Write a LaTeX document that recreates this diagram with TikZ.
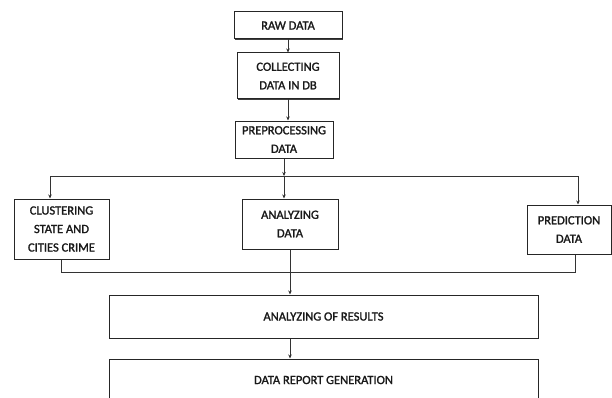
\documentclass[tikz,border=0pt]{standalone}
\usepackage{fontspec}
\setmainfont{Carlito}[FakeBold=1.5]
\usetikzlibrary{arrows.meta,shadows}
\begin{document}
\begin{tikzpicture}[x=1pt,y=1pt,
  box/.style={draw=black!85, line width=1pt, fill=white, align=center,
    inner sep=0pt, text=black!90, font=\fontsize{12.5}{18.5}\selectfont,
    drop shadow={shadow xshift=0.9pt, shadow yshift=-0.9pt, fill=black!75, opacity=1}},
  link/.style={draw=black!80, line width=0.9pt},
  arr/.style={link, -{Stealth[length=4pt,width=3.5pt]}}]
\useasboundingbox (0,0) rectangle (612,397);
\clip (0,0) rectangle (612,397);
\fill[white] (0,0) rectangle (612,397);

% processing chain
\node[box, minimum width=108, minimum height=27] (raw) at (288,371.5) {RAW DATA};
\node[box, minimum width=102, minimum height=46] (coll) at (288,321) {COLLECTING\\DATA IN DB};
\node[box, minimum width=98, minimum height=37] (pre) at (284,257.5) {PREPROCESSING\\DATA};

% three parallel branches
\node[box, minimum width=95, minimum height=60] (clu) at (61.5,168) {CLUSTERING\\STATE AND\\CITIES CRIME};
\node[box, minimum width=96, minimum height=50] (ana) at (290,173) {ANALYZING\\DATA};
\node[box, minimum width=84, minimum height=49] (pred) at (569,167.5) {PREDICTION\\DATA};

% results
\node[box, minimum width=429, minimum height=43] (res) at (323.5,80.5) {ANALYZING OF RESULTS};
\node[box, minimum width=429, minimum height=42] (rep) at (323.5,17) {DATA REPORT GENERATION};

% bus lines
\coordinate (busL) at (50,221);
\coordinate (busR) at (578,221);
\coordinate (bb) at (0,125);

\draw[arr] (raw.south) -- (coll.north);
\draw[arr] (coll.south) -- (coll.south |- pre.north);
\draw[link] (busL) -- (busR);
\draw[arr] (pre.south) -- (pre.south |- busL);
\draw[arr] (busL) -- (busL |- clu.north);
\draw[arr] (pre.south |- busL) -- (pre.south |- ana.north);
\draw[arr] (busR) -- (busR |- pred.north);

\draw[link] (clu.south) |- ([xshift=6pt]pred.south |- bb) -- ([xshift=6pt]pred.south);
\draw[arr] (ana.south) -- (ana.south |- res.north);
\draw[arr] (ana.south |- res.south) -- (ana.south |- rep.north);
\end{tikzpicture}
\end{document}
